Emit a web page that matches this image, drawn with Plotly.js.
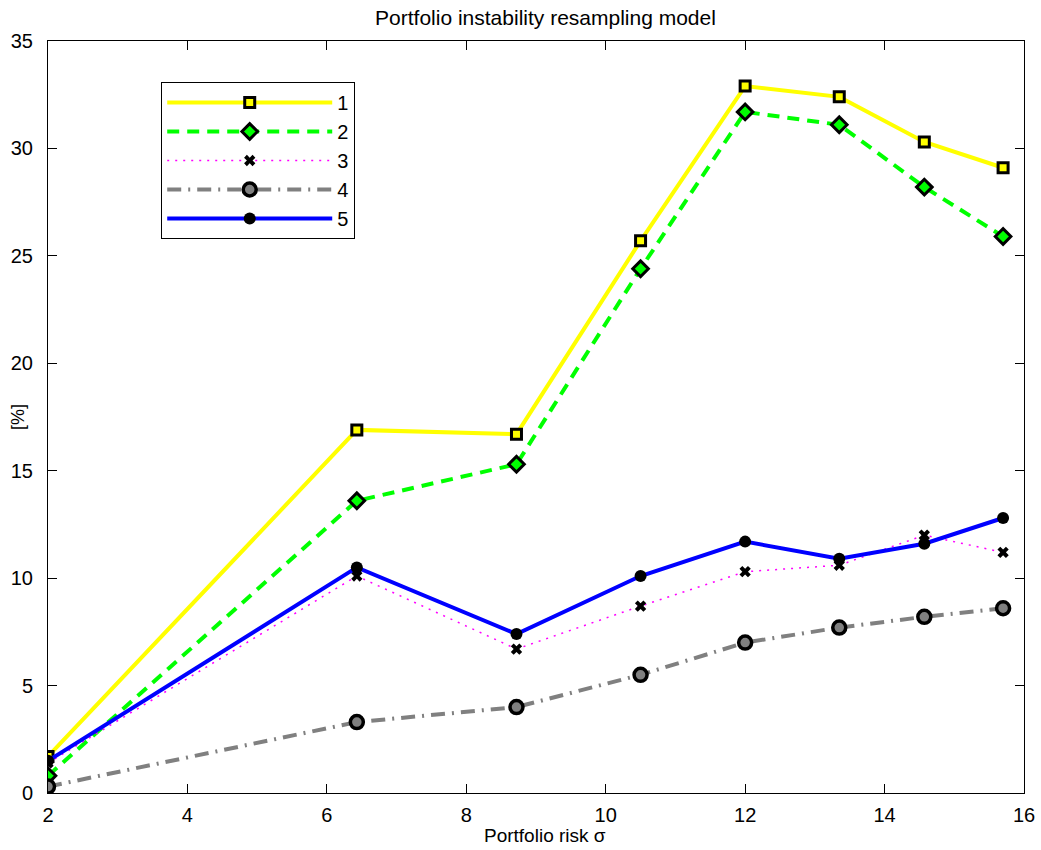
<!DOCTYPE html>
<html>
<head>
<meta charset="utf-8">
<script src="https://cdn.plot.ly/plotly-3.0.1.min.js"></script>
<style>body{margin:0;background:#fff}#chart{width:1041px;height:850px}</style>
</head>
<body>
<div id="chart"></div>
<script>
var riskSigma = [2.0, 6.43, 8.72, 10.5, 12.0, 13.35, 14.57, 15.7];
var seriesNames = ['1', '2', '3', '4', '5'];
var series1 = [1.7, 16.9, 16.7, 25.7, 32.9, 32.4, 30.3, 29.1];
var series2 = [0.8, 13.6, 15.3, 24.4, 31.7, 31.1, 28.2, 25.9];
var series3 = [1.4, 10.1, 6.7, 8.7, 10.3, 10.6, 12.0, 11.2];
var series4 = [0.3, 3.3, 4.0, 5.5, 7.0, 7.7, 8.2, 8.6];
var series5 = [1.5, 10.5, 7.4, 10.1, 11.7, 10.9, 11.6, 12.8];
var xTicks = [2, 4, 6, 8, 10, 12, 14, 16];
var yTicks = [0, 5, 10, 15, 20, 25, 30, 35];
var titleText = 'Portfolio instability resampling model';
var xTitleText = 'Portfolio risk σ';
var yTitleText = '[%]';

var FONT = 'Liberation Sans, Arial, sans-serif';

var traces = [
  {x: riskSigma, y: series1, name: seriesNames[0], mode: 'lines+markers',
   line: {color: '#ffff00', width: 4},
   marker: {symbol: 'square', size: 10, color: '#ffff00', line: {color: '#000', width: 3}}},
  {x: riskSigma, y: series2, name: seriesNames[1], mode: 'lines+markers',
   line: {color: '#00ff00', width: 4, dash: '12px,8px'},
   marker: {symbol: 'diamond', size: 12, color: '#00ff00', line: {color: '#000', width: 3}}},
  {x: riskSigma, y: series3, name: seriesNames[2], mode: 'lines+markers',
   line: {color: '#ff00ff', width: 1.5, dash: '2px,6px'},
   marker: {symbol: 'x', size: 10, color: '#000', line: {color: '#000', width: 0}}},
  {x: riskSigma, y: series4, name: seriesNames[3], mode: 'lines+markers',
   line: {color: '#808080', width: 4, dash: '14px,7px,2px,7px'},
   marker: {symbol: 'circle', size: 13, color: '#808080', line: {color: '#000', width: 3.5}}},
  {x: riskSigma, y: series5, name: seriesNames[4], mode: 'lines+markers',
   line: {color: '#0000ff', width: 4},
   marker: {symbol: 'circle', size: 12, color: '#000', line: {color: '#000', width: 0}}}
];

var layout = {
  width: 1041, height: 850,
  margin: {l: 48, r: 17, t: 41, b: 57},
  paper_bgcolor: '#fff', plot_bgcolor: '#fff',
  font: {family: FONT, size: 18, color: '#000'},
  title: {text: titleText, font: {family: FONT, size: 21, color: '#000'},
          x: 0.524, xanchor: 'center', y: 0.979, yanchor: 'middle'},
  xaxis: {range: [2, 16], tickvals: xTicks, ticktext: xTicks.map(String),
          showgrid: false, zeroline: false, showline: true, linecolor: '#000', linewidth: 1,
          mirror: 'ticks', ticks: 'inside', ticklen: 9, tickcolor: '#000',
          ticklabelstandoff: 4,
          tickfont: {family: FONT, size: 20, color: '#000'}},
  yaxis: {range: [0, 35], tickvals: yTicks, ticktext: yTicks.map(String),
          showgrid: false, zeroline: false, showline: true, linecolor: '#000', linewidth: 1,
          mirror: 'ticks', ticks: 'inside', ticklen: 9, tickcolor: '#000',
          ticklabelstandoff: 10,
          tickfont: {family: FONT, size: 20, color: '#000'}},
  annotations: [
    {text: xTitleText, xref: 'paper', yref: 'paper', x: 0.5, y: 0, xshift: 9, yshift: -42,
     xanchor: 'center', yanchor: 'middle', showarrow: false,
     font: {family: FONT, size: 19, color: '#000'}},
    {text: yTitleText, xref: 'paper', yref: 'paper', x: 0, y: 0.5, xshift: -30, yshift: 0,
     xanchor: 'center', yanchor: 'middle', textangle: -90, showarrow: false,
     font: {family: FONT, size: 18, color: '#000'}}
  ],
  showlegend: true,
  legend: {x: 0.116, y: 0.9455, xanchor: 'left', yanchor: 'top',
           bgcolor: '#fff', bordercolor: '#000', borderwidth: 1,
           font: {family: FONT, size: 20, color: '#000'},
           tracegroupgap: 0, itemwidth: 165}
};

Plotly.newPlot('chart', traces, layout, {displayModeBar: false, staticPlot: true});
</script>
</body>
</html>
